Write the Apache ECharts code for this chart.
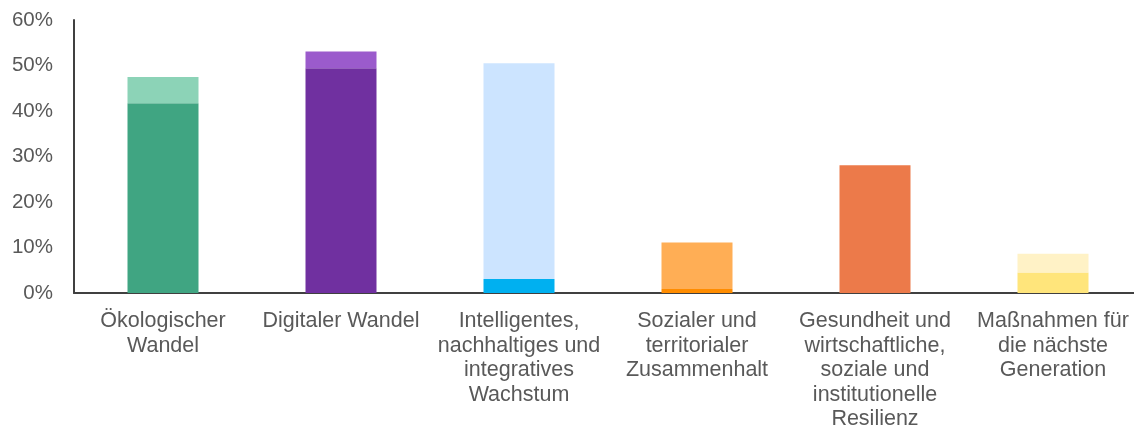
<!DOCTYPE html>
<html>
<head>
<meta charset="utf-8">
<script src="https://cdn.jsdelivr.net/npm/echarts@6/dist/echarts.min.js"></script>
<style>
  html, body { margin: 0; padding: 0; background: #fff; overflow: hidden; }
  #main { width: 1142px; height: 435px; }
</style>
</head>
<body>
<div id="main"></div>
<script>
  // Kategorien (Zeilenumbrüche wie im Original)
  var categories = [
    'Ökologischer\nWandel',
    'Digitaler Wandel',
    'Intelligentes,\nnachhaltiges und\nintegratives\nWachstum',
    'Sozialer und\nterritorialer\nZusammenhalt',
    'Gesundheit und\nwirtschaftliche,\nsoziale und\ninstitutionelle\nResilienz',
    'Maßnahmen für\ndie nächste\nGeneration'
  ];
  // unterer Teil der Säule (%)
  var baseValues = [41.7, 49.4, 3.1, 0.9, 28.1, 4.5];
  // oberer, heller Teil (%), gestapelt
  var topValues = [5.8, 3.7, 47.4, 10.2, 0, 4.1];
  var yTicks = [0, 10, 20, 30, 40, 50, 60];

  var baseColors = ['#40a582', '#7030a0', '#00b0f0', '#ff8c00', '#ec7a4a', '#ffe57b'];
  var topColors = ['#8cd3b7', '#9b5bcc', '#cce4ff', '#ffae55', '#ec7a4a', '#fff2c6'];

  var font = '"Liberation Sans", Arial, sans-serif';

  // Zeichenfläche ist etwas breiter als das Fenster: die x-Achse läuft bis zum Rand
  var myChart = echarts.init(document.getElementById('main'));
  myChart.setOption({
    animation: false,
    grid: { left: 74, top: 20, right: 0, height: 273, containLabel: false },
    xAxis: {
      type: 'category',
      data: categories,
      axisTick: { show: false },
      axisLine: { lineStyle: { color: '#404040', width: 2 } },
      axisLabel: {
        color: '#595959',
        fontFamily: font,
        fontSize: 21.5,
        lineHeight: 24.5,
        margin: 16,
        interval: 0,
        align: 'center'
      }
    },
    yAxis: {
      type: 'value',
      min: yTicks[0],
      max: yTicks[yTicks.length - 1],
      interval: 10,
      splitLine: { show: false },
      axisTick: { show: false },
      axisLine: { show: true, lineStyle: { color: '#404040', width: 2 } },
      axisLabel: {
        color: '#595959',
        fontFamily: font,
        fontSize: 20.5,
        margin: 21,
        formatter: '{value}%'
      }
    },
    series: [
      {
        type: 'bar',
        stack: 'total',
        barWidth: 71,
        data: baseValues.map(function (v, i) {
          return { value: v, itemStyle: { color: baseColors[i] } };
        })
      },
      {
        type: 'bar',
        stack: 'total',
        barWidth: 71,
        data: topValues.map(function (v, i) {
          return { value: v, itemStyle: { color: topColors[i] } };
        })
      }
    ]
  });
  window.onresize = function () {
    myChart.resize();
  };
</script>
</body>
</html>
